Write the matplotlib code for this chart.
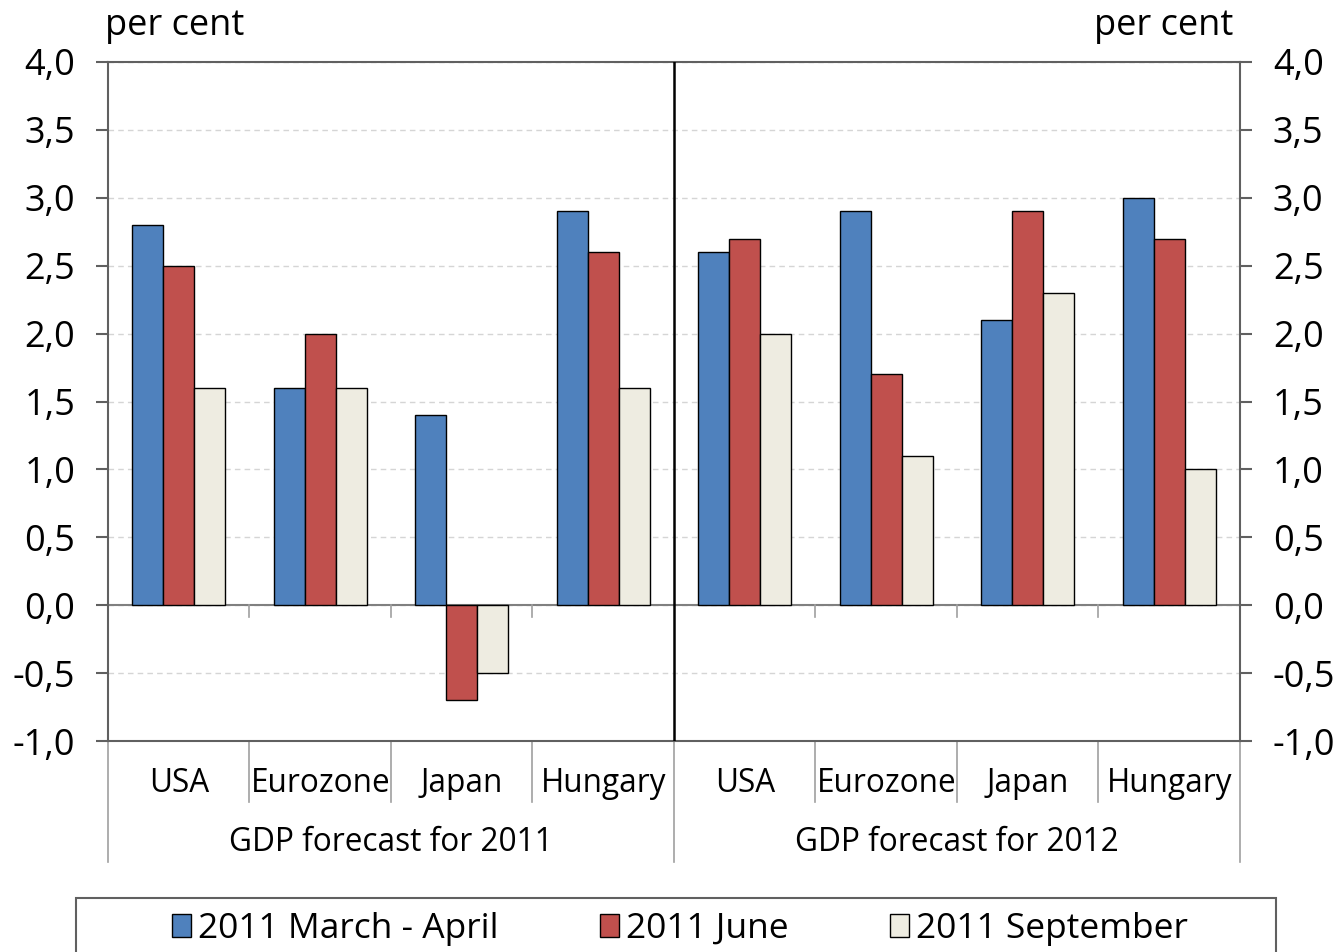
import numpy as np
import matplotlib.pyplot as plt
from matplotlib.patches import Rectangle
from matplotlib.ticker import FuncFormatter, MultipleLocator

plt.rcParams['font.family'] = ['Open Sans', 'DejaVu Sans']

# adatok
countries = ["USA", "Eurozone", "Japan", "Hungary"]
groups = ["GDP forecast for 2011", "GDP forecast for 2012"]
series = ["2011 March - April", "2011 June", "2011 September"]
colors = ["#4F81BD", "#C0504D", "#EEECE1"]

# 2011 majd 2012, orszagonkent
march_april = [2.8, 1.6, 1.4, 2.9, 2.6, 2.9, 2.1, 3.0]
june = [2.5, 2.0, -0.7, 2.6, 2.7, 1.7, 2.9, 2.7]
september = [1.6, 1.6, -0.5, 1.6, 2.0, 1.1, 2.3, 1.0]
values = [march_april, june, september]

W, H = 1343, 952
fig = plt.figure(figsize=(W / 100, H / 100), dpi=100)
ax = fig.add_axes([108 / W, 1 - 741 / H, (1240 - 108) / W, (741 - 62) / H])

n = len(countries) * len(groups)
x = np.arange(n) + 0.5
bw = 0.22
for i, (vals, col, lab) in enumerate(zip(values, colors, series)):
    ax.bar(x + (i - 1) * bw, vals, width=bw, color=col, edgecolor="black",
           linewidth=1, label=lab, zorder=3)

ax.set_xlim(0, n)
ax.set_ylim(-1, 4)
ax.yaxis.set_major_locator(MultipleLocator(0.5))
ax.yaxis.set_major_formatter(FuncFormatter(lambda v, p: f"{v:.1f}".replace(".", ",")))
ax.set_xticks([])

ax.yaxis.grid(True, linestyle=(0, (4, 3)), color="#D5D5D5", linewidth=1)
ax.set_axisbelow(True)

for s in ax.spines.values():
    s.set_color("#606060")
    s.set_linewidth(1.5)

ax.tick_params(axis="y", which="both", left=True, right=True, labelleft=True,
               labelright=True, direction="out", length=8.6, width=1.5,
               color="#606060", labelsize=26, pad=15)

# nulla vonal + kis osztasok
ax.axhline(0, color="#808080", linewidth=1.5, zorder=2)
trans = ax.get_xaxis_transform()
for b in range(1, n):
    if b % len(countries) != 0:
        ax.plot([b, b], [1 / 5 - 0.018, 1 / 5], color="#A0A0A0", lw=1.2,
                transform=trans, zorder=2)

# fuggoleges elvalaszto 2011 / 2012
ax.axvline(len(countries), color="black", linewidth=1.8, zorder=4)

# kategoria tablazat alul
for b in range(0, n + 1):
    depth = 0.178 if b % len(countries) == 0 else 0.090
    ax.plot([b, b], [0, -depth], color="#A0A0A0", lw=1.2, transform=trans,
            clip_on=False)

for k in range(n):
    ax.text(x[k], -0.062, countries[k % len(countries)], transform=trans,
            ha="center", va="center", fontsize=22.7)
for g, name in enumerate(groups):
    ax.text(g * len(countries) + len(countries) / 2, -0.15, name,
            transform=trans, ha="center", va="center", fontsize=22.8)

fig.text(105 / W, 1 - 26 / H, "per cent", ha="left", va="center", fontsize=26)
fig.text(1233 / W, 1 - 26 / H, "per cent", ha="right", va="center", fontsize=26)

# jelmagyarazat
fig.patches.append(Rectangle((76 / W, -0.05), 1200 / W, 0.05 + 1 - 898 / H,
                             transform=fig.transFigure, facecolor="white",
                             edgecolor="#606060", linewidth=1.5))
fig.legend(loc="center", bbox_to_anchor=(680 / W, 1 - 929 / H), ncol=3,
           frameon=False, fontsize=25.5, handlelength=0.55, handleheight=0.6,
           handletextpad=0.2, columnspacing=2.85, borderaxespad=0)

fig.savefig("out.png", dpi=100)
